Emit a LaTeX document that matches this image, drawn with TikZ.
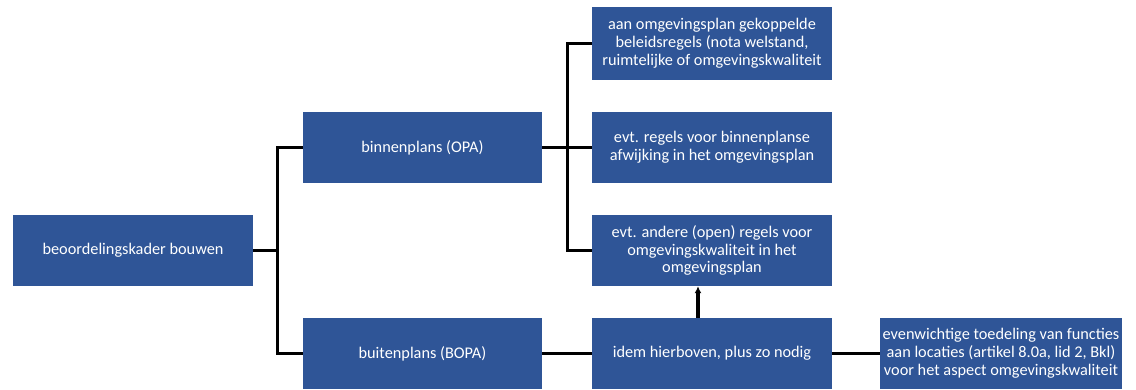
\documentclass[tikz,border=0pt]{standalone}
\usepackage{fontspec}
\setmainfont{Carlito}
\usetikzlibrary{arrows.meta}
\definecolor{kaderblauw}{RGB}{47,85,151}
\tikzset{
  blok/.style={fill=kaderblauw, text=white, minimum width=240pt, minimum height=71pt,
    align=center, inner sep=1pt, font=\fontsize{16.3}{17.8}\selectfont},
  lijn/.style={line width=3.4pt}
}
\begin{document}
\begin{tikzpicture}[x=1pt,y=-1pt]
  \useasboundingbox (0,0) rectangle (1136,389);
  % kader links
  \node[blok] (kader) at (133,250.5) {beoordelingskader bouwen};
  % binnenplans en buitenplans
  \node[blok, minimum width=239pt] (opa) at (422.5,147.5) {binnenplans (OPA)};
  \node[blok, minimum width=239pt] (bopa) at (422.5,353.5) {buitenplans (BOPA)};
  % regels rechts
  \node[blok, minimum height=73pt] (beleid) at (712,43.5) {aan omgevingsplan gekoppelde\\beleidsregels (nota welstand,\\ruimtelijke of omgevingskwaliteit};
  \node[blok] (afwijking) at (712,147.5) {evt. regels voor binnenplanse\\afwijking in het omgevingsplan};
  \node[blok] (open) at (712,250.5) {evt. andere (open) regels voor\\omgevingskwaliteit in het\\omgevingsplan};
  \node[blok] (idem) at (712,353.5) {idem hierboven, plus zo nodig};
  \node[blok, minimum width=242pt] (toedeling) at (1001,353.5) {evenwichtige toedeling van functies\\aan locaties (artikel 8.0a, lid 2, Bkl)\\voor het aspect omgevingskwaliteit};
  % verbindingen
  \draw[lijn] (kader.east) -- ++(24,0) coordinate (split1);
  \draw[lijn] (opa.west) -| (split1) |- (bopa.west);
  \draw[lijn] (opa.east) -- ++(25,0) coordinate (split2);
  \draw[lijn] (beleid.west) -| (split2) |- (open.west);
  \draw[lijn] (split2) -- (afwijking.west);
  \draw[lijn] (bopa.east) -- (idem.west);
  \draw[lijn] (idem.east) -- (toedeling.west);
  \draw[lijn, -{Latex[length=7pt,width=7pt]}] ([xshift=-14pt]idem.north) -- ([xshift=-14pt]open.south);
\end{tikzpicture}
\end{document}
